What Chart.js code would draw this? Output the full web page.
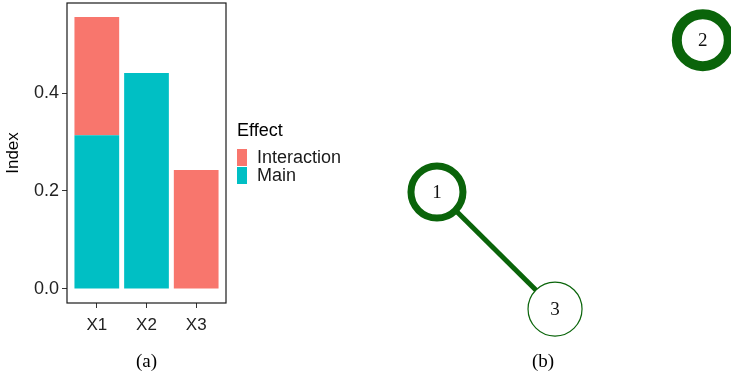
<!DOCTYPE html>
<html lang="en">
<head>
<meta charset="UTF-8">
<title>Index by effect</title>
<script src="https://cdn.jsdelivr.net/npm/chart.js"></script>
<style>
  body { margin: 0; background: #fff; }
  #barChart { position: absolute; left: 0; top: 0; }
  #netChart { position: absolute; left: 340px; top: 0; }
</style>
</head>
<body>
<canvas id="barChart" width="340" height="378"></canvas>
<canvas id="netChart" width="391" height="378"></canvas>
<script>
// panel (a) data
var vars = ['X1', 'X2', 'X3'];
var varPos = [1, 2, 3];
var mainVals = [0.314, 0.441, 0];
var interVals = [0.241, 0, 0.243];
var yTicks = [0, 0.2, 0.4];

// panel (b) data
var nodeNames = ['1', '2', '3'];
var nodeX = [2.18, 9.25, 5.32];
var nodeY = [2.93, 6.94, -0.16];
var nodeRing = [7, 10, 1.2];
var edges = [[0, 2]];

var sans = 'Liberation Sans';
var serif = 'Liberation Serif';
var green = '#0a640a';

Chart.defaults.animation = false;
Chart.defaults.font.family = sans;

// full box around the plot panel + the legend
var boxPlugin = {
  id: 'box',
  afterDraw: function (chart) {
    var a = chart.chartArea, c = chart.ctx;
    c.save();
    c.strokeStyle = '#1a1a1a';
    c.lineWidth = 1.2;
    c.strokeRect(a.left, a.top, a.right - a.left, a.bottom - a.top);

    // legend
    c.fillStyle = '#000';
    c.font = '18px ' + sans;
    c.textBaseline = 'middle';
    c.textAlign = 'left';
    c.fillText('Effect', 237, 131);
    var items = [chart.data.datasets[1], chart.data.datasets[0]];
    items.forEach(function (ds, i) {
      var y = 149 + i * 18;
      c.fillStyle = ds.backgroundColor;
      c.fillRect(237, y, 10, 17);
      c.fillStyle = '#1a1a1a';
      c.fillText(ds.label, 257, y + 9);
    });
    c.restore();
  }
};

new Chart(document.getElementById('barChart'), {
  type: 'bar',
  data: {
    datasets: [
      {
        label: 'Main',
        data: varPos.map(function (x, i) { return {x: x, y: mainVals[i]}; }),
        backgroundColor: '#00BFC4'
      },
      {
        label: 'Interaction',
        data: varPos.map(function (x, i) { return {x: x, y: interVals[i]}; }),
        backgroundColor: '#F8766D'
      }
    ]
  },
  options: {
    responsive: false,
    barPercentage: 0.9,
    categoryPercentage: 1,
    layout: { padding: { top: 3, right: 114, left: 0, bottom: 0 } },
    plugins: { legend: { display: false }, tooltip: { enabled: false } },
    scales: {
      x: {
        type: 'linear',
        stacked: true,
        offset: false,
        min: 0.4,
        max: 3.6,
        afterBuildTicks: function (s) { s.ticks = varPos.map(function (v) { return {value: v}; }); },
        afterFit: function (s) { s.height = 75; s.paddingLeft = 0; s.paddingRight = 0; },
        grid: { drawOnChartArea: false, offset: false, tickLength: 5, color: '#333' },
        border: { display: false },
        ticks: {
          color: '#222',
          font: { size: 17 },
          padding: 7,
          maxRotation: 0,
          callback: function (v) { return vars[varPos.indexOf(v)]; }
        },
        title: {
          display: true,
          text: '(a)',
          color: '#000',
          font: { family: serif, size: 19 },
          padding: { top: 0, bottom: 5 }
        }
      },
      y: {
        stacked: true,
        min: -0.0286,
        max: 0.5837,
        afterBuildTicks: function (s) { s.ticks = yTicks.map(function (v) { return {value: v}; }); },
        afterFit: function (s) { s.width = 67; s.paddingTop = 0; s.paddingBottom = 0; },
        grid: { drawOnChartArea: false, tickLength: 5, color: '#333' },
        border: { display: false },
        ticks: {
          color: '#222',
          font: { size: 18 },
          padding: 3,
          callback: function (v) { return v.toFixed(1); }
        },
        title: {
          display: true,
          text: 'Index',
          color: '#000',
          font: { size: 17 },
          padding: { top: 3, bottom: 0 }
        }
      }
    }
  },
  plugins: [boxPlugin]
});

// node labels
var labelPlugin = {
  id: 'nodeLabels',
  afterDatasetsDraw: function (chart) {
    var c = chart.ctx, pts = chart.getDatasetMeta(0).data;
    c.save();
    c.fillStyle = '#111';
    c.font = '19px ' + serif;
    c.textAlign = 'center';
    c.textBaseline = 'middle';
    pts.forEach(function (p, i) { c.fillText(nodeNames[i], p.x, p.y + 1); });
    c.restore();
  }
};

var edgeSets = edges.map(function (e) {
  return {
    type: 'line',
    data: [{x: nodeX[e[0]], y: nodeY[e[0]]}, {x: nodeX[e[1]], y: nodeY[e[1]]}],
    borderColor: green,
    borderWidth: 5,
    pointRadius: 0,
    clip: false
  };
});

new Chart(document.getElementById('netChart'), {
  type: 'scatter',
  data: {
    datasets: [{
      data: nodeX.map(function (x, i) { return {x: x, y: nodeY[i]}; }),
      pointRadius: [26, 26, 27],
      pointBorderWidth: nodeRing,
      pointBackgroundColor: '#fff',
      pointBorderColor: green,
      clip: false
    }].concat(edgeSets)
  },
  options: {
    responsive: false,
    layout: { autoPadding: false, padding: { left: 15, right: 0, top: 0, bottom: 0 } },
    plugins: { legend: { display: false }, tooltip: { enabled: false } },
    scales: {
      x: {
        min: 0, max: 10,
        afterFit: function (s) { s.height = 75; s.paddingLeft = 0; s.paddingRight = 0; },
        grid: { display: false },
        border: { display: false },
        ticks: { display: false },
        title: {
          display: true,
          text: '(b)',
          color: '#000',
          font: { family: serif, size: 19 },
          padding: { top: 0, bottom: 5 }
        }
      },
      y: { min: 0, max: 8, display: false }
    }
  },
  plugins: [labelPlugin]
});
</script>
</body>
</html>
